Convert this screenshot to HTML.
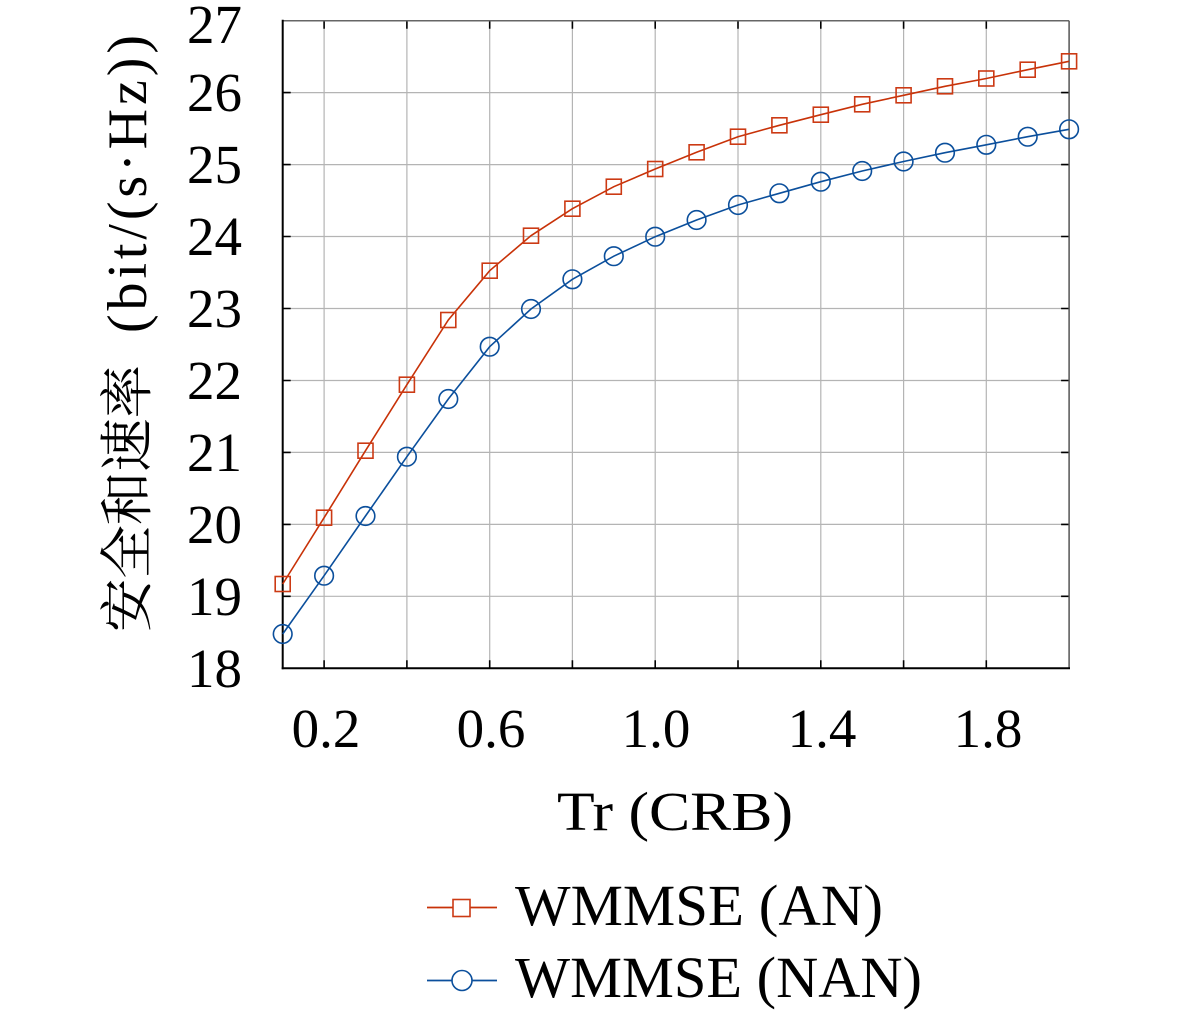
<!DOCTYPE html>
<html><head><meta charset="utf-8"><style>
html,body{margin:0;padding:0;background:#fff;}
svg{display:block;}
text{font-family:"Liberation Serif","Noto Serif CJK SC",serif;fill:#000;}
</style></head><body>
<svg width="1181" height="1016" viewBox="0 0 1181 1016" xmlns="http://www.w3.org/2000/svg">
<rect width="1181" height="1016" fill="#fff"/>
<!-- grid -->
<g stroke="#b4b4b4" stroke-width="1.2">
<line x1="324.1" y1="20.7" x2="324.1" y2="668.3"/>
<line x1="406.9" y1="20.7" x2="406.9" y2="668.3"/>
<line x1="489.7" y1="20.7" x2="489.7" y2="668.3"/>
<line x1="572.4" y1="20.7" x2="572.4" y2="668.3"/>
<line x1="655.2" y1="20.7" x2="655.2" y2="668.3"/>
<line x1="738.0" y1="20.7" x2="738.0" y2="668.3"/>
<line x1="820.8" y1="20.7" x2="820.8" y2="668.3"/>
<line x1="903.6" y1="20.7" x2="903.6" y2="668.3"/>
<line x1="986.3" y1="20.7" x2="986.3" y2="668.3"/>
<line x1="282.7" y1="596.3" x2="1069.1" y2="596.3"/>
<line x1="282.7" y1="524.4" x2="1069.1" y2="524.4"/>
<line x1="282.7" y1="452.4" x2="1069.1" y2="452.4"/>
<line x1="282.7" y1="380.5" x2="1069.1" y2="380.5"/>
<line x1="282.7" y1="308.5" x2="1069.1" y2="308.5"/>
<line x1="282.7" y1="236.5" x2="1069.1" y2="236.5"/>
<line x1="282.7" y1="164.6" x2="1069.1" y2="164.6"/>
<line x1="282.7" y1="92.6" x2="1069.1" y2="92.6"/>
</g>
<!-- ticks -->
<g stroke="#000" stroke-width="1.6">
<path d="M324.1 668.3v-8M406.9 668.3v-8M489.7 668.3v-8M572.4 668.3v-8M655.2 668.3v-8M738.0 668.3v-8M820.8 668.3v-8M903.6 668.3v-8M986.3 668.3v-8"/>
<path d="M324.1 20.7v8M406.9 20.7v8M489.7 20.7v8M572.4 20.7v8M655.2 20.7v8M738.0 20.7v8M820.8 20.7v8M903.6 20.7v8M986.3 20.7v8"/>
<path d="M282.7 596.3h8M282.7 524.4h8M282.7 452.4h8M282.7 380.5h8M282.7 308.5h8M282.7 236.5h8M282.7 164.6h8M282.7 92.6h8"/>
<path d="M1069.1 596.3h-8M1069.1 524.4h-8M1069.1 452.4h-8M1069.1 380.5h-8M1069.1 308.5h-8M1069.1 236.5h-8M1069.1 164.6h-8M1069.1 92.6h-8"/>
</g>
<!-- axes -->
<line x1="282.7" y1="20.7" x2="1069.1" y2="20.7" stroke="#666" stroke-width="1.5"/>
<line x1="1069.1" y1="20.7" x2="1069.1" y2="668.3" stroke="#555" stroke-width="1.5"/>
<line x1="282.7" y1="19.8" x2="282.7" y2="669.3" stroke="#000" stroke-width="2"/>
<line x1="281.7" y1="668.3" x2="1070" y2="668.3" stroke="#000" stroke-width="2"/>
<!-- red series -->
<polyline fill="none" stroke="#c83208" stroke-width="1.6" points="282.7,584 324.1,517.7 365.5,450.7 406.9,384.7 448.3,320 489.7,270.7 531.0,235.7 572.4,208.7 613.8,186.7 655.2,169 696.6,152.3 738.0,136.7 779.4,125.3 820.8,114.7 862.2,104.3 903.6,95.3 945.0,86.3 986.3,78.5 1027.7,69.7 1069.1,61.3"/>
<g fill="none" stroke="#cc3a14" stroke-width="1.6">
<rect x="275.2" y="576.5" width="15" height="15"/>
<rect x="316.6" y="510.2" width="15" height="15"/>
<rect x="358.0" y="443.2" width="15" height="15"/>
<rect x="399.4" y="377.2" width="15" height="15"/>
<rect x="440.8" y="312.5" width="15" height="15"/>
<rect x="482.2" y="263.2" width="15" height="15"/>
<rect x="523.5" y="228.2" width="15" height="15"/>
<rect x="564.9" y="201.2" width="15" height="15"/>
<rect x="606.3" y="179.2" width="15" height="15"/>
<rect x="647.7" y="161.5" width="15" height="15"/>
<rect x="689.1" y="144.8" width="15" height="15"/>
<rect x="730.5" y="129.2" width="15" height="15"/>
<rect x="771.9" y="117.8" width="15" height="15"/>
<rect x="813.3" y="107.2" width="15" height="15"/>
<rect x="854.7" y="96.8" width="15" height="15"/>
<rect x="896.1" y="87.8" width="15" height="15"/>
<rect x="937.5" y="78.8" width="15" height="15"/>
<rect x="978.8" y="71.0" width="15" height="15"/>
<rect x="1020.2" y="62.2" width="15" height="15"/>
<rect x="1061.6" y="53.8" width="15" height="15"/>
</g>
<!-- blue series -->
<polyline fill="none" stroke="#0b4f9c" stroke-width="1.6" points="282.7,634 324.1,575.7 365.5,516 406.9,456.7 448.3,399 489.7,346.7 531.0,309 572.4,279.3 613.8,256.2 655.2,236.7 696.6,220 738.0,205 779.4,193.3 820.8,181.7 862.2,171 903.6,161.5 945.0,152.7 986.3,144.8 1027.7,136.7 1069.1,129.3"/>
<g fill="none" stroke="#0b4f9c" stroke-width="1.6">
<circle cx="282.7" cy="634" r="9.3"/>
<circle cx="324.1" cy="575.7" r="9.3"/>
<circle cx="365.5" cy="516" r="9.3"/>
<circle cx="406.9" cy="456.7" r="9.3"/>
<circle cx="448.3" cy="399" r="9.3"/>
<circle cx="489.7" cy="346.7" r="9.3"/>
<circle cx="531.0" cy="309" r="9.3"/>
<circle cx="572.4" cy="279.3" r="9.3"/>
<circle cx="613.8" cy="256.2" r="9.3"/>
<circle cx="655.2" cy="236.7" r="9.3"/>
<circle cx="696.6" cy="220" r="9.3"/>
<circle cx="738.0" cy="205" r="9.3"/>
<circle cx="779.4" cy="193.3" r="9.3"/>
<circle cx="820.8" cy="181.7" r="9.3"/>
<circle cx="862.2" cy="171" r="9.3"/>
<circle cx="903.6" cy="161.5" r="9.3"/>
<circle cx="945.0" cy="152.7" r="9.3"/>
<circle cx="986.3" cy="144.8" r="9.3"/>
<circle cx="1027.7" cy="136.7" r="9.3"/>
<circle cx="1069.1" cy="129.3" r="9.3"/>
</g>
<!-- y tick labels -->
<g font-size="55" text-anchor="end">
<text x="242" y="687">18</text>
<text x="242" y="615">19</text>
<text x="242" y="543">20</text>
<text x="242" y="471">21</text>
<text x="242" y="399">22</text>
<text x="242" y="327">23</text>
<text x="242" y="255">24</text>
<text x="242" y="183">25</text>
<text x="242" y="111">26</text>
<text x="242" y="43">27</text>
</g>
<!-- x tick labels -->
<g font-size="55" text-anchor="middle">
<text x="326" y="747">0.2</text>
<text x="491" y="747">0.6</text>
<text x="656" y="747">1.0</text>
<text x="822" y="747">1.4</text>
<text x="988" y="747">1.8</text>
</g>
<!-- axis titles -->
<text x="557" y="830" font-size="55" textLength="236" lengthAdjust="spacingAndGlyphs">Tr (CRB)</text>
<text transform="translate(146,632) rotate(-90)" font-size="54" textLength="267" lengthAdjust="spacingAndGlyphs" style='font-family:"Noto Serif CJK SC","Noto Sans CJK SC",serif'>安全和速率</text>
<text transform="translate(146,333) rotate(-90)" font-size="56" textLength="298" lengthAdjust="spacing" style='font-family:"Liberation Serif",serif'>(bit/(s·Hz))</text>
<!-- legend -->
<line x1="427" y1="907.5" x2="497" y2="907.5" stroke="#c83208" stroke-width="1.8"/>
<rect x="453" y="899.5" width="17" height="17" fill="#fff" stroke="#cc3a14" stroke-width="1.6"/>
<text x="515" y="925" font-size="58" textLength="368" lengthAdjust="spacingAndGlyphs">WMMSE (AN)</text>
<line x1="427" y1="980.5" x2="497" y2="980.5" stroke="#0b4f9c" stroke-width="1.8"/>
<circle cx="462" cy="980.5" r="10" fill="#fff" stroke="#0b4f9c" stroke-width="1.6"/>
<text x="515" y="997" font-size="58" textLength="407" lengthAdjust="spacingAndGlyphs">WMMSE (NAN)</text>
</svg>
</body></html>
